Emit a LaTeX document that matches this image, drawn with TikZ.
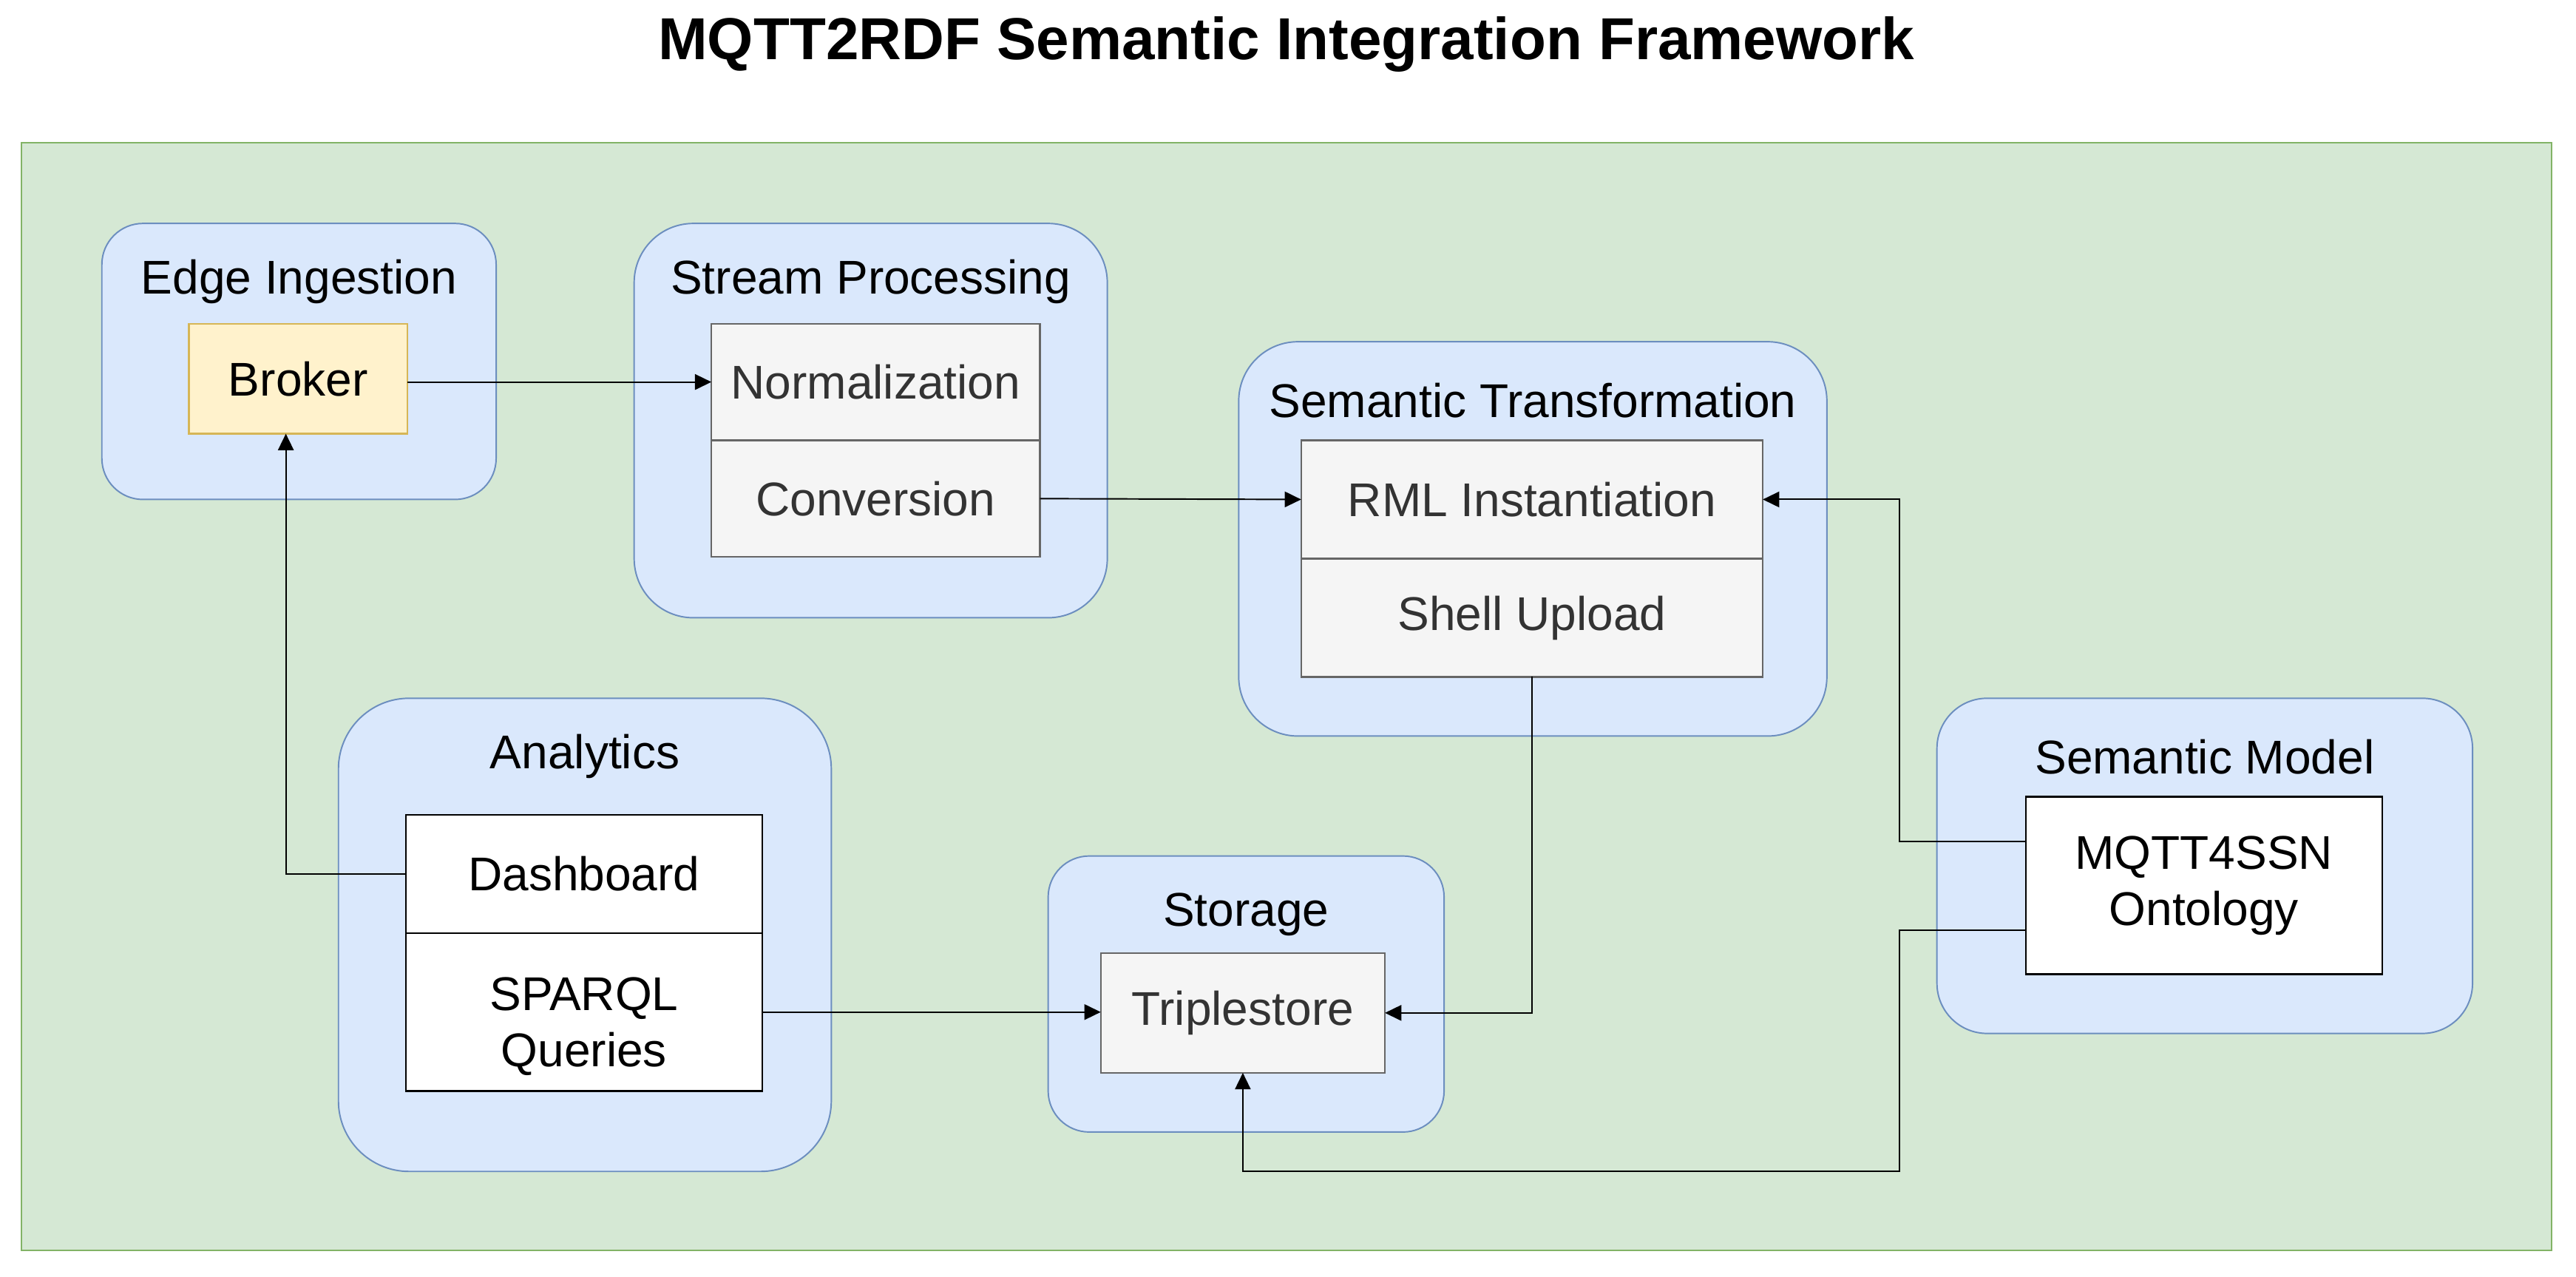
\documentclass[tikz,border=0pt]{standalone}
\usepackage{fontspec}
\setmainfont{Liberation Sans}
\usetikzlibrary{arrows.meta, positioning}
\usepackage{xcolor}
\definecolor{canvasfill}{HTML}{D5E8D4}
\definecolor{canvasline}{HTML}{82B366}
\definecolor{stagefill}{HTML}{DAE8FC}
\definecolor{stageline}{HTML}{6C8EBF}
\definecolor{greyfill}{HTML}{F5F5F5}
\definecolor{greyline}{HTML}{666666}
\definecolor{greytext}{HTML}{333333}
\definecolor{brokerfill}{HTML}{FFF2CC}
\definecolor{brokerline}{HTML}{D6B656}

\begin{document}
\begin{tikzpicture}[
    stage/.style={draw=stageline, fill=stagefill, line width=0.5pt},
    stagetitle/.style={font=\fontsize{16.4}{19.6}\selectfont, inner sep=0pt},
    unit/.style={draw, line width=0.6pt, outer sep=0pt, align=center, font=\fontsize{16.4}{19.6}\selectfont, inner sep=2pt},
    greyunit/.style={unit, draw=greyline, fill=greyfill, text=greytext},
    whiteunit/.style={unit, draw=black, fill=white},
    arrow/.style={-{Triangle[length=2mm, width=1.9mm]}, line width=0.5pt},
    >=Triangle
]
\useasboundingbox (0,0) rectangle (31.36,-15.54);

% Title and canvas
\node[font=\fontsize{20.5}{24}\selectfont\bfseries] (title) at (15.66,-0.54) {MQTT2RDF Semantic Integration Framework};
\node[draw=canvasline, fill=canvasfill, line width=0.6pt, minimum width=30.8cm, minimum height=13.48cm] (canvas) at (15.66,-8.48) {};

% Edge ingestion
\node[stage, minimum width=4.8cm, minimum height=3.36cm, rounded corners=0.5cm] (edge) at (3.64,-4.40) {};
\node[stagetitle] (edgeT) at ([yshift=-0.72cm] edge.north) {Edge Ingestion};
\node[unit, draw=brokerline, fill=brokerfill, minimum width=2.66cm, minimum height=1.34cm] (broker) at (3.63,-4.61) {Broker};

% Stream processing
\node[stage, minimum width=5.76cm, minimum height=4.8cm, rounded corners=0.72cm] (stream) at (10.6,-5.12) {};
\node[stagetitle] (streamT) at ([yshift=-0.72cm] stream.north) {Stream Processing};
\node[greyunit, minimum width=4cm, minimum height=1.42cm] (norm) at (10.66,-4.65) {Normalization};
\node[greyunit, minimum width=4cm, minimum height=1.42cm, below=0pt of norm] (conv) {Conversion};

% Semantic transformation
\node[stage, minimum width=7.16cm, minimum height=4.8cm, rounded corners=0.72cm] (transf) at (18.66,-6.56) {};
\node[stagetitle] (transfT) at ([yshift=-0.72cm] transf.north) {Semantic Transformation};
\node[greyunit, minimum width=5.62cm, minimum height=1.44cm] (rml) at (18.65,-6.08) {RML Instantiation};
\node[greyunit, minimum width=5.62cm, minimum height=1.44cm, below=0pt of rml] (shell) {Shell Upload};

% Analytics
\node[stage, minimum width=6cm, minimum height=5.76cm, rounded corners=0.86cm] (analytics) at (7.12,-11.38) {};
\node[stagetitle] (analyticsT) at ([yshift=-0.72cm] analytics.north) {Analytics};
\node[whiteunit, minimum width=4.34cm, minimum height=1.44cm] (dash) at (7.11,-10.64) {Dashboard};
\node[whiteunit, minimum width=4.34cm, minimum height=1.92cm, below=0pt of dash] (sparql) {\rule{0pt}{0.75cm}SPARQL\\Queries};

% Storage
\node[stage, minimum width=4.82cm, minimum height=3.36cm, rounded corners=0.5cm] (storage) at (15.17,-12.10) {};
\node[stagetitle] (storageT) at ([yshift=-0.72cm] storage.north) {Storage};
\node[greyunit, minimum width=3.46cm, minimum height=1.46cm] (triple) at (15.13,-12.33) {Triplestore};

% Semantic model
\node[stage, minimum width=6.52cm, minimum height=4.08cm, rounded corners=0.61cm] (model) at (26.84,-10.54) {};
\node[stagetitle] (modelT) at ([yshift=-0.72cm] model.north) {Semantic Model};
\node[whiteunit, minimum width=4.34cm, minimum height=2.16cm] (onto) at (26.83,-10.78) {MQTT4SSN\\Ontology};

% Routing points
\coordinate (ontoUp) at ([yshift=0.54cm] onto.west);
\coordinate (ontoLow) at ([yshift=-0.54cm] onto.west);
\coordinate (bus) at (23.12,0);
\coordinate (bottomRun) at (0,-14.26);

% Arrows
\draw[arrow] (broker.east |- norm.west) -- (norm.west);
\draw[arrow] (conv.east) -- (rml.west);
\draw[arrow] (shell.south) |- (triple.east);
\draw[arrow] (dash.west) -| ([xshift=-0.15cm] broker.south);
\draw[arrow] (sparql.east) -- (sparql.east -| triple.west);
\draw[arrow] (ontoUp) -- (ontoUp -| bus) |- (rml.east);
\draw[arrow] (ontoLow) -- (ontoLow -| bus) -- (bus |- bottomRun) -| (triple.south);

\end{tikzpicture}
\end{document}
